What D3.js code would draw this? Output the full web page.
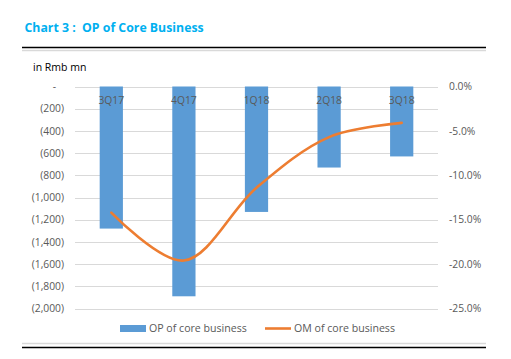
<!DOCTYPE html>
<html><head><meta charset="utf-8">
<script src="https://cdn.jsdelivr.net/npm/d3@7"></script>
<style>
html,body{margin:0;padding:0;background:#fff;}
svg{display:block;font-family:"Open Sans","DejaVu Sans",sans-serif;}
</style></head>
<body><svg id="c" width="511" height="359"></svg>
<script>
const categories = ["3Q17","4Q17","1Q18","2Q18","3Q18"];
const opValues = [-1280, -1890, -1130, -730, -630];
const omValues = [-14.2, -19.6, -11.4, -5.7, -4.1];
const leftTicks = [0,-200,-400,-600,-800,-1000,-1200,-1400,-1600,-1800,-2000];
const rightTicks = [0,-5,-10,-15,-20,-25];

const svg = d3.select("#c");
const L = 75, R = 438, T = 86.5, B = 308.5;
const x = d3.scaleBand().domain(categories).range([L,R]).paddingInner(0.68).paddingOuter(0.34);
const yL = d3.scaleLinear().domain([0,-2000]).range([T,B]);
const yR = d3.scaleLinear().domain([0,-25]).range([T,B]);

// title
svg.append("text").attr("x",24.5).attr("y",32).attr("fill","#00B0F0")
  .attr("font-size","12.3px").attr("font-weight","bold").style("white-space","pre")
  .text("Chart 3 :  OP of Core Business");
// frame lines
svg.append("line").attr("x1",22).attr("x2",486).attr("y1",47.5).attr("y2",47.5).attr("stroke","#000").attr("stroke-width",1.3);
svg.append("line").attr("x1",22).attr("x2",486).attr("y1",50.5).attr("y2",50.5).attr("stroke","#d9d9d9").attr("stroke-width",1.3);
svg.append("line").attr("x1",22).attr("x2",486).attr("y1",343.5).attr("y2",343.5).attr("stroke","#d9d9d9").attr("stroke-width",1.3);
svg.append("line").attr("x1",22).attr("x2",486).attr("y1",347.5).attr("y2",347.5).attr("stroke","#000").attr("stroke-width",1.3);

svg.append("text").attr("x",33).attr("y",71).attr("fill","#000").attr("font-size","10.5px").text("in Rmb mn");

// gridlines
svg.append("g").selectAll("line").data(leftTicks).join("line")
  .attr("x1",L).attr("x2",R).attr("y1",d=>Math.round(yL(d))+0.5).attr("y2",d=>Math.round(yL(d))+0.5)
  .attr("stroke","#d9d9d9").attr("stroke-width",1);

// left axis
const fmtL = d => d===0 ? "-" : "(" + d3.format(",")(-d) + ")";
const gl = svg.append("g").attr("transform",`translate(${L},0)`)
  .call(d3.axisLeft(yL).tickValues(leftTicks).tickFormat(fmtL).tickSize(0).tickPadding(11));
gl.select(".domain").remove();
gl.selectAll("text").attr("fill","#595959").attr("font-size","10.3px").attr("font-family","Open Sans, DejaVu Sans, sans-serif");
gl.selectAll(".tick text").filter(d=>d===0).attr("dx","-8");

// right axis
const gr = svg.append("g").attr("transform",`translate(${R},0)`)
  .call(d3.axisRight(yR).tickValues(rightTicks).tickFormat(d=>d.toFixed(1)+"%").tickSize(0).tickPadding(11));
gr.select(".domain").remove();
gr.selectAll("text").attr("fill","#595959").attr("font-size","10.3px").attr("font-family","Open Sans, DejaVu Sans, sans-serif");

// bars
svg.append("g").selectAll("rect").data(categories).join("rect")
  .attr("x",d=>x(d)).attr("width",x.bandwidth())
  .attr("y",yL(0)).attr("height",(d,i)=>yL(opValues[i])-yL(0))
  .attr("fill","#5B9BD5");

// category labels
svg.append("g").selectAll("text").data(categories).join("text")
  .attr("x",d=>x(d)+x.bandwidth()/2).attr("y",104).attr("text-anchor","middle")
  .attr("fill","#595959").attr("font-size","10.3px").text(d=>d);

// line
const line = d3.line().x((d,i)=>x(categories[i])+x.bandwidth()/2).y(d=>yR(d)).curve(d3.curveCatmullRom.alpha(0.5));
svg.append("path").datum(omValues).attr("d",line).attr("fill","none")
  .attr("stroke","#ED7D31").attr("stroke-width",2.6).attr("stroke-linecap","round");

// legend
svg.append("rect").attr("x",120).attr("y",325).attr("width",26).attr("height",7).attr("fill","#5B9BD5");
svg.append("text").attr("x",149).attr("y",332).attr("fill","#595959").attr("font-size","10.6px").text("OP of core business");
svg.append("line").attr("x1",265).attr("x2",291).attr("y1",328.5).attr("y2",328.5).attr("stroke","#ED7D31").attr("stroke-width",2.6);
svg.append("text").attr("x",294).attr("y",332).attr("fill","#595959").attr("font-size","10.6px").text("OM of core business");
</script></body></html>
